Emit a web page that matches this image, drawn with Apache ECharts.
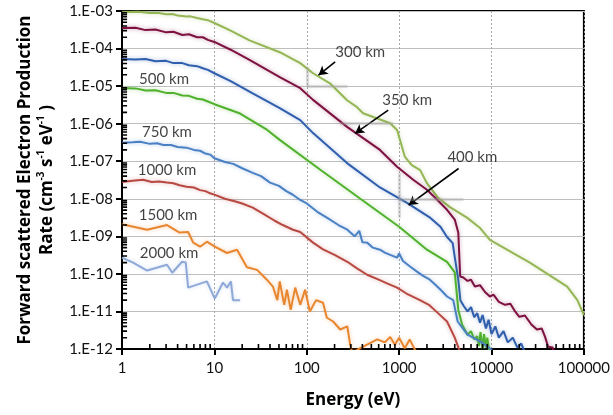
<!DOCTYPE html>
<html><head><meta charset="utf-8">
<script src="https://cdn.jsdelivr.net/npm/echarts@6/dist/echarts.min.js"></script>
<style>html,body{margin:0;padding:0;background:#fff}#c{width:613px;height:415px}</style>
</head><body><div id="c"></div>
<script>
// ---- data (energy eV, rate cm^-3 s^-1 eV^-1) ----
const seriesNames = ['300 km', '350 km', '400 km', '500 km', '750 km', '1000 km', '1500 km', '2000 km'];

const s300 = [[1,9.3e-4],[1.5,9.5e-4],[2,8.8e-4],[2.5,8.9e-4],[3,8.2e-4],[3.5,8.3e-4],[4,7.6e-4],[5,7.1e-4],[5.5,7.2e-4],[6.5,6.5e-4],[7.5,6.0e-4],[8.5,5.7e-4],[10,4.8e-4],[15,3.0e-4],[24,1.65e-4],[51,8.0e-5],[85,4.1e-5],[117,2.2e-5],[178,1.19e-5],[273,4.2e-6],[350,2.75e-6],[407,1.9e-6],[524,1.5e-6],[801,1.03e-6],[953,6.7e-7],[1155,1.3e-7],[1370,7.9e-8],[1690,5.8e-8],[2000,2.6e-8],[2600,1.1e-8],[3550,6.0e-9],[5470,3.1e-9],[7530,1.66e-9],[9600,8.0e-10],[26000,2.0e-10],[66000,4.6e-11],[85000,2.0e-11],[100000,8e-12]];
const s350 = [[1,3.5e-4],[1.4,3.6e-4],[1.8,3.1e-4],[2.3,3.2e-4],[3,2.7e-4],[3.6,2.8e-4],[4.5,2.3e-4],[5.3,2.4e-4],[6.5,2.0e-4],[7.5,2.0e-4],[8.5,1.7e-4],[10,1.5e-4],[15,9.3e-5],[24,5.0e-5],[51,1.73e-5],[85,8.8e-6],[117,4.3e-6],[273,8.2e-7],[620,2.0e-7],[950,7.1e-8],[1420,3.2e-8],[2000,1.74e-8],[2600,9.3e-9],[3300,5.1e-9],[4000,2.8e-9],[4370,1.25e-9],[4580,8.5e-11],[4950,8e-11],[5500,6.5e-11],[6000,7e-11],[6600,4.6e-11],[7500,5e-11],[8500,3.3e-11],[9600,2.5e-11],[10500,2.8e-11],[12000,1.8e-11],[14000,1.5e-11],[16000,1.6e-11],[18000,1.0e-11],[20000,7.2e-12],[23000,7.8e-12],[27000,4.5e-12],[31000,3.3e-12],[35000,3.5e-12],[38000,2.1e-12],[41000,1.15e-12],[46000,1.1e-12],[48000,5e-13]];
const s400 = [[1,5.3e-5],[1.4,5.1e-5],[1.8,5.3e-5],[2.3,4.6e-5],[3,4.7e-5],[3.6,4.1e-5],[4.5,4.1e-5],[5.3,3.6e-5],[6.5,3.4e-5],[7.5,3.0e-5],[8.5,2.7e-5],[10,2.2e-5],[15,1.35e-5],[26,6.4e-6],[51,2.6e-6],[85,1.24e-6],[117,5.6e-7],[273,8.9e-8],[620,2.0e-8],[1230,7.7e-9],[2180,3.1e-9],[2800,1.8e-9],[3300,9.6e-10],[3800,6.6e-10],[4000,2.8e-10],[4370,6.9e-11],[4600,2e-11],[5000,1.4e-11],[5500,1.0e-11],[6000,1.3e-11],[6500,7e-12],[7000,9e-12],[7500,5e-12],[8000,8e-12],[8700,3.5e-12],[9300,6e-12],[10000,2.5e-12],[11000,4e-12],[12000,2e-12],[13500,3e-12],[15000,1.5e-12],[17000,2e-12],[19000,1.1e-12],[21000,1.4e-12],[23000,8e-13]];
const s500 = [[1,8.9e-6],[1.4,8.7e-6],[1.8,7.6e-6],[2.3,7.8e-6],[3,6.6e-6],[3.6,6.6e-6],[4.5,5.6e-6],[5.3,5.5e-6],[6.5,4.6e-6],[7.5,4.4e-6],[8.5,3.9e-6],[10,3.3e-6],[19,1.86e-6],[37,6.9e-7],[51,3.7e-7],[139,6.0e-8],[380,1e-8],[1000,1.8e-9],[2000,4.4e-10],[3300,2.1e-10],[4000,1.1e-10],[4370,1.1e-11],[4800,4.5e-12],[5500,2.4e-12],[6000,3e-12],[6500,1.8e-12],[7000,2.2e-12],[7300,1.2e-12],[7600,2.8e-12],[8000,1e-12],[8300,2.5e-12],[8700,1.1e-12],[9000,2e-12],[9500,8e-13]];
const s750 = [[1,3.1e-7],[1.3,3.2e-7],[1.57,3.3e-7],[2,2.9e-7],[2.4,3.0e-7],[2.8,2.7e-7],[3.4,2.7e-7],[4,2.4e-7],[5,2.3e-7],[6,2.0e-7],[7,1.9e-7],[8,1.6e-7],[9,1.5e-7],[10,1.2e-7],[13,9.5e-8],[16,8.5e-8],[20,6.5e-8],[26,4.9e-8],[32,4.0e-8],[40,2.7e-8],[50,2.2e-8],[60,1.6e-8],[70,1.3e-8],[85,9.3e-9],[100,7.5e-9],[130,4.5e-9],[170,3.0e-9],[220,2.0e-9],[275,1.5e-9],[330,1.0e-9],[370,1.4e-9],[400,7e-10],[450,6.8e-10],[520,5e-10],[620,4.4e-10],[700,3.7e-10],[800,3.2e-10],[950,2.7e-10],[1000,3.5e-10],[1100,2.2e-10],[1300,1.6e-10],[1560,1.15e-10],[1800,9e-11],[2150,7e-11],[2500,5e-11],[2900,3.5e-11],[3300,2.5e-11],[3850,2e-11],[4300,5.4e-12],[5500,2.4e-12],[7500,1.6e-12],[9600,1.05e-12],[10500,8e-13]];
const s1000 = [[1,2.8e-8],[1.3,3.0e-8],[1.69,3.2e-8],[2.1,2.8e-8],[2.5,2.9e-8],[3.07,2.7e-8],[3.6,2.6e-8],[4.2,2.3e-8],[5,2.1e-8],[6,2.0e-8],[7,1.7e-8],[8,1.6e-8],[9,1.4e-8],[10,1.29e-8],[13,1.0e-8],[17,8.5e-9],[20,7.5e-9],[26,5.8e-9],[35,3.8e-9],[45,2.6e-9],[55,2.0e-9],[71,1.5e-9],[85,1.3e-9],[117,6.8e-10],[150,4.5e-10],[200,3.2e-10],[275,2.1e-10],[350,1.4e-10],[450,9.5e-11],[600,7e-11],[750,5.5e-11],[950,4.3e-11],[1200,3.0e-11],[1680,2.0e-11],[2100,1.5e-11],[2600,9.3e-12],[3300,5.4e-12],[4000,2e-12],[4370,1.1e-12],[4600,8e-13]];
const s1500 = [[1,2.1e-9],[1.87,1.5e-9],[3.07,2.0e-9],[4.2,1.26e-9],[5.2,1.3e-9],[5.9,6.8e-10],[7,5.3e-10],[8.3,7.2e-10],[10.1,5.3e-10],[13.7,3.6e-10],[17.6,4.4e-10],[22.5,1.5e-10],[29,1.28e-10],[37,7e-11],[43,4.6e-11],[48,2e-11],[51,6.3e-11],[57,1.5e-11],[61,3.8e-11],[67,1.1e-11],[75,4.3e-11],[85,1.5e-11],[96,3.8e-11],[108,1e-11],[126,2e-11],[150,1.7e-11],[165,6.8e-12],[193,5.4e-12],[230,3.3e-12],[275,4e-12],[295,1.3e-12],[310,8e-13],[380,1.05e-12],[580,1.8e-12],[700,1.5e-12],[800,2.1e-12],[900,1.3e-12],[1000,2e-12],[1150,1.05e-12],[1300,1.8e-12],[1500,9e-13]];
const s2000 = [[1,2.7e-10],[1.32,2.0e-10],[1.87,1.23e-10],[3.07,1.75e-10],[3.5,1.07e-10],[4.47,2.1e-10],[4.9,2.0e-10],[5.2,4.3e-11],[8.3,6.3e-11],[10.1,2.2e-11],[12.4,5.9e-11],[13.7,4.3e-11],[15.1,6.3e-11],[15.9,2e-11],[19,2e-11]];

const labelTexts = ['300 km', '350 km', '400 km', '500 km', '750 km', '1000 km', '1500 km', '2000 km'];
const labelAt = [[379, 8.1e-5], [1224, 4.2e-6], [6200, 1.29e-7], [2.85, 1.53e-5], [3.07, 5.9e-7], [3.07, 5.8e-8], [3.15, 3.7e-9], [3.23, 3.6e-10]];
const arrowFrom = [[203, 4.4e-5], [762, 2.29e-6], [4400, 6.4e-8]];
const arrowTo = [[134, 1.95e-5], [334, 5.5e-7], [1265, 6.8e-9]];
const shadeFrom = [[100, 1e-5], [230, 1e-6], [1000, 1e-8], [1000, 3.1e-9], [100, 1e-5]];
const shadeTo = [[275, 1e-5], [860, 1e-6], [4960, 1e-8], [1000, 4.8e-8], [100, 3.2e-5]];

const allData = [s300, s350, s400, s500, s750, s1000, s1500, s2000];
const colors = ['#95B655', '#7D1241', '#2F5EAD', '#50B22C', '#4A80C4', '#B84942', '#E8862F', '#8EA9D8'];

// log-spaced minor tick values (2..9 of each decade)
const minorX = [];
for (let d = 0; d < 5; d++) for (let m = 2; m <= 9; m++) minorX.push(m * Math.pow(10, d));
const minorY = [];
for (let d = -12; d < -3; d++) for (let m = 2; m <= 9; m++) minorY.push(m * Math.pow(10, d));
// inward tick length expressed as a factor along each log axis
const X_MIN = 1, Y_MIN = 1e-12, TICK_FX = 1.135, TICK_FY = 1.36;

// tick segments as broken polylines (a '-' point breaks the line)
const xTickSeg = [];
minorX.forEach(v => { xTickSeg.push([v, Y_MIN], [v, Y_MIN * TICK_FY], [v, '-']); });
const yTickSeg = [];
minorY.forEach(v => { yTickSeg.push([X_MIN, v], [X_MIN * TICK_FX, v], ['-', v]); });

const FONT = 'Lato, "Open Sans", sans-serif';
const TFONT = '"Open Sans", Lato, sans-serif';
const chart = echarts.init(document.getElementById('c'), null, {renderer: 'canvas'});

const lineSeries = allData.map((d, i) => ({
  name: seriesNames[i], type: 'line', data: d, showSymbol: false, symbol: 'none',
  clip: true, z: 3,
  lineStyle: {color: colors[i], width: 2, shadowColor: colors[i] + '66', shadowBlur: 4},
  itemStyle: {color: colors[i]}
}));

const tickSeries = [xTickSeg, yTickSeg].map((d, i) => ({
  name: i ? 'minorTicksY' : 'minorTicksX', type: 'line', data: d, showSymbol: false, symbol: 'none',
  connectNulls: false, clip: false, silent: true, z: 8,
  lineStyle: {color: '#000', width: 1.6}, itemStyle: {color: '#000'}
}));

const option = {
  animation: false,
  backgroundColor: '#fff',
  grid: {left: 122, right: 29, top: 11, bottom: 66, show: true, borderColor: '#000', borderWidth: 2, containLabel: false},
  xAxis: {
    type: 'log', logBase: 10, min: 1, max: 100000, splitNumber: 5,
    axisLine: {show: true, onZero: false, lineStyle: {color: '#000', width: 2}},
    axisTick: {show: true, inside: false, length: 6, lineStyle: {color: '#000', width: 2}},
    axisLabel: {fontFamily: FONT, fontSize: 15, color: '#111', margin: 12, formatter: v => String(Math.round(v))},
    splitLine: {show: true, lineStyle: {color: '#a6a6a6', width: 1, type: [2, 2]}},
    name: 'Energy (eV)', nameLocation: 'middle', nameGap: 43,
    nameTextStyle: {fontFamily: TFONT, fontSize: 17, fontWeight: 'bold', color: '#000'}
  },
  yAxis: {
    type: 'log', logBase: 10, min: 1e-12, max: 1e-3, splitNumber: 9,
    axisLine: {show: true, onZero: false, lineStyle: {color: '#000', width: 2}},
    axisTick: {show: true, inside: false, length: 6, lineStyle: {color: '#000', width: 2}},
    axisLabel: {fontFamily: FONT, fontSize: 15, color: '#111', margin: 9,
      formatter: v => { const e = Math.round(Math.log10(v)); return '1.E' + (e < 0 ? '-' : '+') + String(Math.abs(e)).padStart(2, '0'); }},
    splitLine: {show: true, lineStyle: {color: '#bfbfbf', width: 1}},
    name: '{a|Forward scattered Electron Production}\n{a|Rate (cm}{s|-3}{a| s}{s|-1}{a| eV}{s|-1}{a| )}',
    nameLocation: 'middle', nameGap: 48,
    nameTextStyle: {
      fontFamily: TFONT, fontWeight: 'bold', color: '#000', lineHeight: 22,
      rich: {
        a: {fontFamily: TFONT, fontSize: 17, fontWeight: 'bold', color: '#000', lineHeight: 22},
        s: {fontFamily: TFONT, fontSize: 10, fontWeight: 'bold', color: '#000', lineHeight: 22, verticalAlign: 'top', padding: [0, 0, 8, 0]}
      }
    }
  },
  series: lineSeries.concat(tickSeries, [
    {
      type: 'scatter', name: 'labels', silent: true, z: 10, symbolSize: 0,
      data: labelAt.map((p, i) => ({value: p, name: labelTexts[i]})),
      label: {show: true, position: 'inside', formatter: p => p.name, fontFamily: FONT, fontSize: 15, color: '#111'},
      markLine: {
        silent: true, symbol: ['none', 'arrow'], symbolSize: [8, 9],
        lineStyle: {color: '#000', width: 1.6, type: 'solid'}, label: {show: false},
        data: arrowFrom.map((f, i) => [{coord: f}, {coord: arrowTo[i]}])
      }
    },
    {
      type: 'line', name: 'shade', data: [], silent: true, z: 2,
      markLine: {
        silent: true, symbol: ['none', 'none'],
        lineStyle: {color: 'rgba(170,170,170,0.35)', width: 3, type: 'solid', shadowColor: 'rgba(150,150,150,0.4)', shadowBlur: 4},
        label: {show: false},
        data: shadeFrom.map((f, i) => [{coord: f}, {coord: shadeTo[i]}])
      }
    }
  ])
};
chart.setOption(option);
</script>
</body></html>
